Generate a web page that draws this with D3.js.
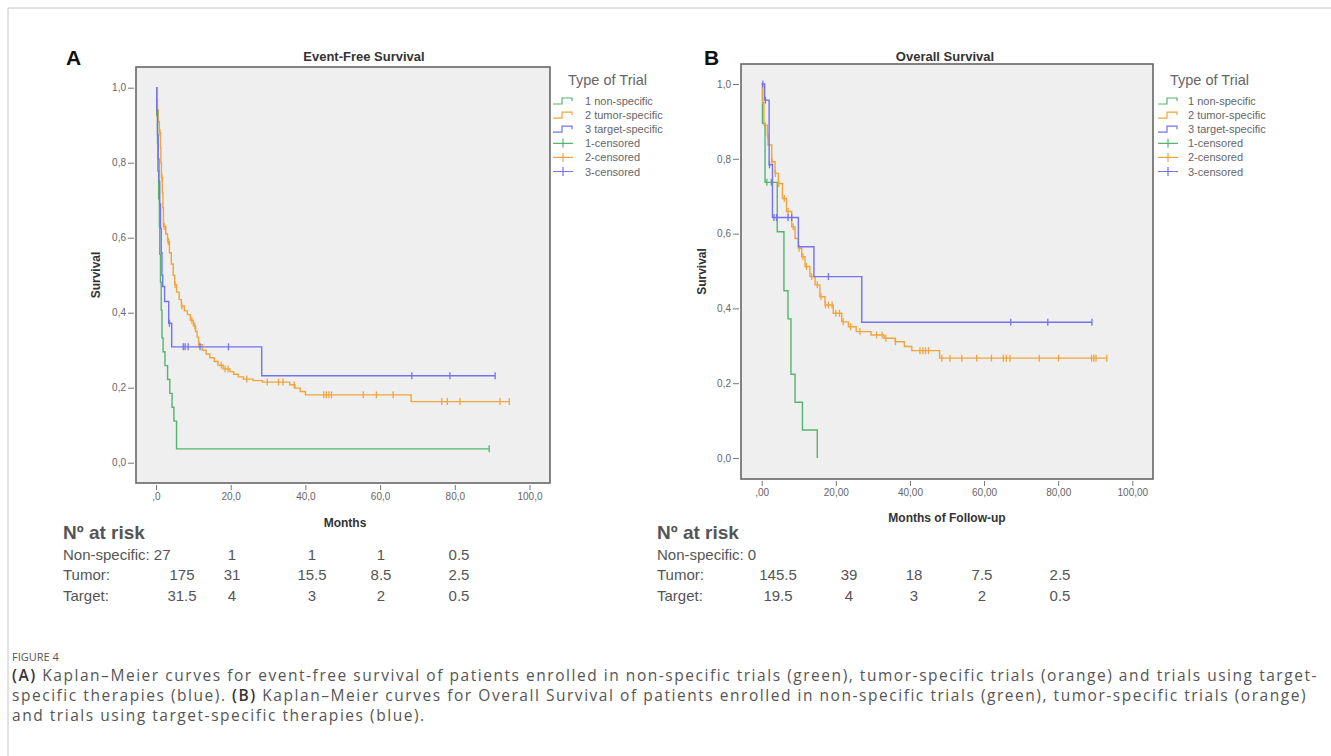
<!DOCTYPE html>
<html><head><meta charset="utf-8">
<script src="https://cdn.jsdelivr.net/npm/d3@7"></script>
<style>body{margin:0;background:#fff;} svg{display:block;}</style>
</head><body>
<svg id="c" width="1331" height="756"></svg>
<script>
// ---------------- DATA ----------------
const lineNames = ["1 non-specific", "2 tumor-specific", "3 target-specific"];
const censorNames = ["1-censored", "2-censored", "3-censored"];
const legendTitle = "Type of Trial";

const xTicks = [0, 20, 40, 60, 80, 100];
const xTickLabelsA = [",0", "20,0", "40,0", "60,0", "80,0", "100,0"];
const xTickLabelsB = [",00", "20,00", "40,00", "60,00", "80,00", "100,00"];
const yTicks = [0, 0.2, 0.4, 0.6, 0.8, 1.0];
const yTickLabels = ["0,0", "0,2", "0,4", "0,6", "0,8", "1,0"];

// Event-free survival: [time of drop, survival after drop]
const efsNonSpecific = [[0.2,0.926],[0.4,0.852],[0.5,0.778],[0.7,0.704],[0.9,0.63],[1.0,0.556],[1.2,0.481],[1.4,0.407],[1.6,0.333],[1.9,0.296],[2.4,0.259],[3.1,0.222],[3.7,0.185],[4.3,0.148],[4.8,0.111],[5.5,0.037]];
const efsNonSpecificCensored = [89.2];
const efsTumor = [[0.2,0.97],[0.4,0.94],[0.6,0.91],[0.9,0.88],[1.2,0.84],[1.3,0.80],[1.45,0.76],[1.7,0.72],[1.85,0.68],[2.0,0.63],[2.6,0.61],[3.1,0.59],[3.6,0.56],[4.1,0.53],[4.6,0.50],[5.0,0.475],[5.5,0.455],[6.2,0.435],[6.8,0.418],[7.6,0.405],[8.4,0.395],[9.2,0.38],[10.0,0.365],[10.6,0.35],[11.0,0.335],[11.4,0.315],[12.4,0.30],[13.4,0.29],[14.4,0.28],[15.6,0.27],[16.6,0.26],[18.0,0.25],[19.8,0.243],[20.8,0.236],[22.0,0.229],[23.4,0.223],[26.0,0.219],[28.5,0.215],[35.8,0.208],[37.2,0.199],[38.6,0.19],[40.0,0.181],[68.3,0.163]];
const efsTumorCensored = [1.1,1.6,2.2,3.3,5.1,6.9,9.6,10.4,11.5,17.5,18.5,19.3,24.3,29.8,32.8,34.0,37.0,44.9,45.6,46.3,47.0,55.5,59.0,63.5,76.5,78.0,81.4,92.1,94.6];
const efsTarget = [[0.2,0.94],[0.4,0.875],[0.6,0.81],[0.8,0.75],[1.0,0.69],[1.2,0.625],[1.4,0.56],[1.6,0.50],[1.8,0.47],[2.3,0.43],[3.4,0.372],[4.2,0.309],[28.3,0.232]];
const efsTargetCensored = [3.6,7.3,7.8,8.6,11.8,19.4,68.5,78.7,90.8];

// Overall survival
const osNonSpecific = [[0.2,0.895],[0.9,0.737],[4.2,0.605],[6.0,0.447],[7.1,0.372],[7.9,0.224],[9.0,0.149],[11.0,0.075],[15.0,0.0]];
const osNonSpecificCensored = [1.4,2.6];
const osTumor = [[0.3,0.95],[0.6,0.89],[1.5,0.863],[1.7,0.837],[2.7,0.792],[3.6,0.761],[4.5,0.734],[5.6,0.694],[6.7,0.659],[8.1,0.618],[9.0,0.587],[9.9,0.561],[10.8,0.538],[11.7,0.512],[13.0,0.485],[14.4,0.463],[15.7,0.431],[17.1,0.409],[19.3,0.387],[21.6,0.364],[23.4,0.351],[25.5,0.338],[29.5,0.329],[33.0,0.32],[36.0,0.311],[38.5,0.298],[40.5,0.287],[48.0,0.267]];
const osTumorCensored = [1.6,2.8,3.7,4.6,6.1,7.1,8.5,10.1,11.1,12.1,13.5,15.0,16.0,17.2,18.0,19.0,20.0,21.0,22.0,24.0,26.5,31.0,32.5,33.5,36.1,42.7,43.5,44.2,45.0,48.6,50.8,54.0,58.0,62.0,65.2,66.0,67.0,74.9,80.1,89.0,89.6,90.2,93.1];
const osTarget = [[0.8,0.957],[2.0,0.784],[2.9,0.643],[9.9,0.565],[14.1,0.485],[27.0,0.363]];
const osTargetCensored = [0.3,1.0,2.1,3.3,4.0,7.1,8.1,18.0,67.2,77.2,89.1];

// Numbers at risk
const riskTitle = "Nº at risk";
const riskRowLabels = ["Non-specific:", "Tumor:", "Target:"];
const riskEfsNonSpecific = ["27", "1", "1", "1", "0.5"];
const riskEfsTumor = ["175", "31", "15.5", "8.5", "2.5"];
const riskEfsTarget = ["31.5", "4", "3", "2", "0.5"];
const riskOsNonSpecific = ["0"];
const riskOsTumor = ["145.5", "39", "18", "7.5", "2.5"];
const riskOsTarget = ["19.5", "4", "3", "2", "0.5"];

const captionHead = "FIGURE 4";
const captionLines = [
  [["(A)", true], [" Kaplan–Meier curves for event-free survival of patients enrolled in non-specific trials (green), tumor-specific trials (orange) and trials using target-", false]],
  [["specific therapies (blue). ", false], ["(B)", true], [" Kaplan–Meier curves for Overall Survival of patients enrolled in non-specific trials (green), tumor-specific trials (orange)", false]],
  [["and trials using target-specific therapies (blue).", false]]
];

// ---------------- DRAW ----------------
const colors = ["#55b56e", "#f0a53c", "#7373ee"];
const svg = d3.select("#c");
const FONT = "'Liberation Sans', Arial, sans-serif";

// outer frame
svg.append("line").attr("x1", 8).attr("y1", 8).attr("x2", 1331).attr("y2", 8).attr("stroke", "#c4c4c4").attr("stroke-width", 1);
svg.append("line").attr("x1", 8).attr("y1", 8).attr("x2", 8).attr("y2", 756).attr("stroke", "#c4c4c4").attr("stroke-width", 1);

function survAt(steps, t) {
  let s = 1;
  for (const [tt, v] of steps) { if (tt <= t) s = v; else break; }
  return s;
}

function panel(cfg) {
  const g = svg.append("g");
  const x = d3.scaleLinear().domain([0, 100]).range(cfg.xr);
  const y = d3.scaleLinear().domain([0, 1]).range(cfg.yr);
  const f = cfg.frame;
  g.append("rect").attr("x", f.l).attr("y", f.t).attr("width", f.r - f.l).attr("height", f.b - f.t)
    .attr("fill", "#efefef").attr("stroke", "#666").attr("stroke-width", 1.6);

  // y axis
  const ya = d3.axisLeft(y).tickValues(yTicks).tickFormat((d, i) => yTickLabels[i]).tickSize(6).tickPadding(2);
  const yg = g.append("g").attr("transform", `translate(${f.l - 2},0)`).call(ya);
  yg.select(".domain").remove();
  yg.selectAll("line").attr("stroke", "#777");
  yg.selectAll("text").attr("font-family", FONT).attr("font-size", 10).attr("fill", "#666");

  // x axis
  const xa = d3.axisBottom(x).tickValues(xTicks).tickFormat((d, i) => cfg.xLabels[i]).tickSize(5).tickPadding(3);
  const xg = g.append("g").attr("transform", `translate(0,${f.b + 2})`).call(xa);
  xg.select(".domain").remove();
  xg.selectAll("line").attr("stroke", "#777");
  xg.selectAll("text").attr("font-family", FONT).attr("font-size", 10).attr("fill", "#666");

  // curves
  cfg.series.forEach((s, i) => {
    const end = Math.max(s.end, d3.max(s.censored) || 0);
    const p = d3.path();
    p.moveTo(x(0), y(1));
    let cur = 1;
    s.steps.forEach(([t, v]) => { p.lineTo(x(t), y(cur)); p.lineTo(x(t), y(v)); cur = v; });
    const lastT = s.steps[s.steps.length - 1][0];
    if (end > lastT) p.lineTo(x(end), y(cur));
    g.append("path").attr("d", p.toString()).attr("fill", "none").attr("stroke", colors[i]).attr("stroke-width", 1.4);
    g.selectAll(null).data(s.censored).enter().append("line")
      .attr("x1", d => x(d)).attr("x2", d => x(d))
      .attr("y1", d => y(survAt(s.steps, d)) - 3.5).attr("y2", d => y(survAt(s.steps, d)) + 3.5)
      .attr("stroke", colors[i]).attr("stroke-width", 1.3);
  });

  // titles
  g.append("text").attr("x", cfg.titleX).attr("y", 61).attr("text-anchor", "middle")
    .attr("font-family", FONT).attr("font-weight", "bold").attr("font-size", 13).attr("fill", "#333").text(cfg.title);
  g.append("text").attr("x", cfg.letterX).attr("y", 65).attr("font-family", FONT)
    .attr("font-weight", "bold").attr("font-size", 21).attr("fill", "#111").text(cfg.letter);
  g.append("text").attr("transform", `translate(${cfg.ylabX},${(f.t + f.b) / 2}) rotate(-90)`)
    .attr("text-anchor", "middle").attr("font-family", FONT).attr("font-weight", "bold")
    .attr("font-size", 12).attr("fill", "#333").text("Survival");
  g.append("text").attr("x", cfg.xlabX).attr("y", cfg.xlabY).attr("text-anchor", "middle")
    .attr("font-family", FONT).attr("font-weight", "bold").attr("font-size", 12).attr("fill", "#333").text(cfg.xlab);

  // legend
  const L = cfg.legend;
  g.append("text").attr("x", L.tx).attr("y", 85).attr("font-family", FONT).attr("font-size", 14.5)
    .attr("fill", "#666").text(legendTitle);
  const rows = lineNames.map((n, i) => ({ n, i, c: false })).concat(censorNames.map((n, i) => ({ n, i, c: true })));
  rows.forEach((r, k) => {
    const yy = 101 + k * 14.1;
    const x0 = L.sx;
    if (!r.c) {
      g.append("path").attr("d", `M${x0},${yy + 3}H${x0 + 9}V${yy - 3}H${x0 + 19}V${yy}`)
        .attr("fill", "none").attr("stroke", colors[r.i]).attr("stroke-width", 1.2);
    } else {
      g.append("path").attr("d", `M${x0},${yy}H${x0 + 20}M${x0 + 10},${yy - 4.5}V${yy + 4.5}`)
        .attr("fill", "none").attr("stroke", colors[r.i]).attr("stroke-width", 1.2);
    }
    g.append("text").attr("x", L.lx).attr("y", yy + 4).attr("font-family", FONT).attr("font-size", 11)
      .attr("fill", "#666").text(r.n);
  });

  // at risk
  g.append("text").attr("x", cfg.riskX).attr("y", 539).attr("font-family", FONT).attr("font-weight", "bold")
    .attr("font-size", 19).attr("fill", "#555").text(riskTitle);
  cfg.risk.forEach((vals, r) => {
    const by = 560 + r * 20.3;
    if (r === 0) {
      g.append("text").attr("x", cfg.riskX).attr("y", by).attr("font-family", FONT).attr("font-size", 15)
        .attr("fill", "#555").text(riskRowLabels[0] + " " + vals[0]);
      vals.slice(1).forEach((v, j) => {
        g.append("text").attr("x", cfg.riskCols[j + 1]).attr("y", by).attr("text-anchor", "middle")
          .attr("font-family", FONT).attr("font-size", 15).attr("fill", "#555").text(v);
      });
    } else {
      g.append("text").attr("x", cfg.riskX).attr("y", by).attr("font-family", FONT).attr("font-size", 15)
        .attr("fill", "#555").text(riskRowLabels[r]);
      vals.forEach((v, j) => {
        g.append("text").attr("x", cfg.riskCols[j]).attr("y", by).attr("text-anchor", "middle")
          .attr("font-family", FONT).attr("font-size", 15).attr("fill", "#555").text(v);
      });
    }
  });
}

panel({
  frame: { l: 136, t: 67, r: 550, b: 483 }, xr: [156, 529.5], yr: [462.7, 87.7],
  xLabels: xTickLabelsA, title: "Event-Free Survival", titleX: 364, letter: "A", letterX: 66,
  ylabX: 100, xlab: "Months", xlabX: 345, xlabY: 527,
  legend: { tx: 568, sx: 553, lx: 585 },
  riskX: 63, riskCols: [182, 232, 312, 381, 459],
  risk: [riskEfsNonSpecific, riskEfsTumor, riskEfsTarget],
  series: [
    { steps: efsNonSpecific, censored: efsNonSpecificCensored, end: 0 },
    { steps: efsTumor, censored: efsTumorCensored, end: 0 },
    { steps: efsTarget, censored: efsTargetCensored, end: 0 }
  ]
});
panel({
  frame: { l: 741, t: 64, r: 1153, b: 479 }, xr: [761.7, 1132.3], yr: [458, 84],
  xLabels: xTickLabelsB, title: "Overall Survival", titleX: 945, letter: "B", letterX: 704,
  ylabX: 706, xlab: "Months of Follow-up", xlabX: 947, xlabY: 522,
  legend: { tx: 1170, sx: 1158, lx: 1188 },
  riskX: 657, riskCols: [778, 849, 914, 982, 1060],
  risk: [riskOsNonSpecific, riskOsTumor, riskOsTarget],
  series: [
    { steps: osNonSpecific, censored: osNonSpecificCensored, end: 0 },
    { steps: osTumor, censored: osTumorCensored, end: 0 },
    { steps: osTarget, censored: osTargetCensored, end: 0 }
  ]
});

// caption
svg.append("text").attr("x", 12).attr("y", 661).attr("font-family", "'Open Sans', sans-serif")
  .attr("font-size", 11).attr("fill", "#555").text(captionHead);
const capFS = 15.5;
const capNodes = [];
captionLines.forEach((parts, i) => {
  const t = svg.append("text").attr("x", 12).attr("y", 681 + i * 19.8)
    .attr("font-family", "'Open Sans', sans-serif").attr("font-size", capFS).attr("fill", "#555");
  parts.forEach(([s, b]) => t.append("tspan").attr("font-weight", b ? 600 : 400).attr("fill", b ? "#333" : "#555").text(s));
  capNodes.push(t);
});
// spread letters so the first line spans the reference width
const w0 = capNodes[0].node().getComputedTextLength();
const nChars = captionLines[0].map(p => p[0]).join("").length;
const ls = Math.max(0, Math.min(3, (1306 - w0) / nChars));
capNodes.forEach(t => t.attr("letter-spacing", ls));
</script>
</body></html>
